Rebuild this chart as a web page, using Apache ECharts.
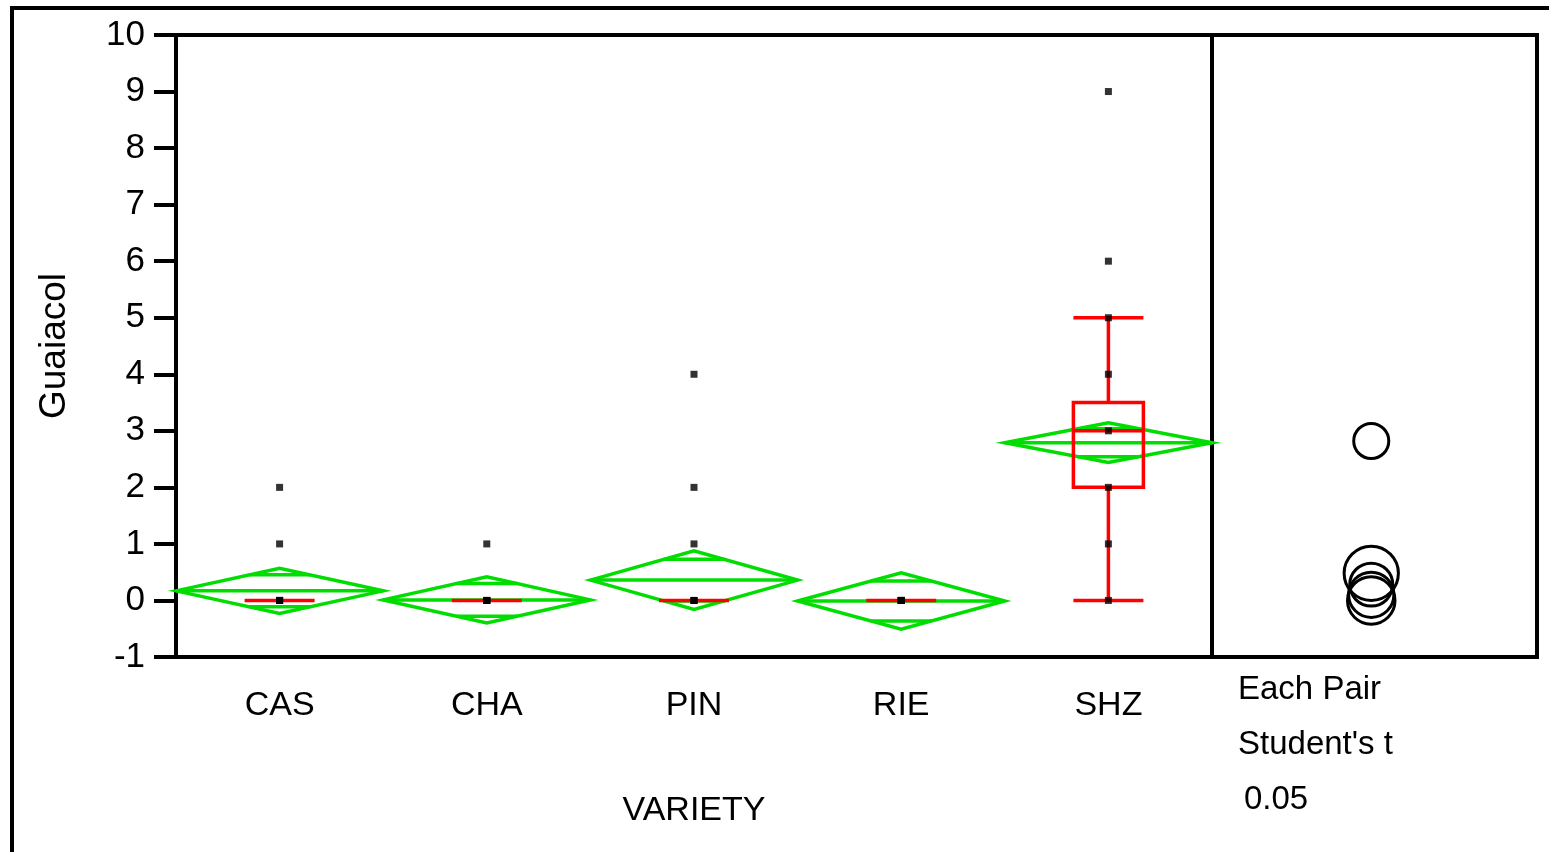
<!DOCTYPE html>
<html>
<head>
<meta charset="utf-8">
<script src="https://cdn.jsdelivr.net/npm/echarts@6/dist/echarts.min.js"></script>
<style>
  html, body { margin: 0; padding: 0; background: #fff; }
  #chart { width: 1549px; height: 852px; }
</style>
</head>
<body>
<div id="chart"></div>
<script>
// varieties on the x axis
const categories = ['CAS', 'CHA', 'PIN', 'RIE', 'SHZ'];
const yTicks = [-1, 0, 1, 2, 3, 4, 5, 6, 7, 8, 9, 10];

// raw observations (only distinct values are visible)
const casValues = [0, 0, 0, 0, 1, 2];
const chaValues = [0, 0, 0, 0, 1];
const pinValues = [0, 0, 0, 1, 2, 4];
const rieValues = [0, 0, 0, 0, 0];
const shzValues = [0, 1, 2, 3, 4, 5, 6, 9];

// means diamonds: group mean and half height of the 95% interval
const groupMeans = [0.17, 0.01, 0.36, -0.01, 2.79];
const ciHalf = [0.40, 0.41, 0.52, 0.50, 0.35];

// quantile boxes: min, q1, median, q3, max whisker
const boxStats = [
  [0, 0, 0, 0, 0],
  [0, 0, 0, 0, 0],
  [0, 0, 0, 0, 0],
  [0, 0, 0, 0, 0],
  [0, 2, 3, 3.5, 5]
];

// comparison circles (Each Pair, Student's t 0.05)
const circleNames = ['SHZ', 'PIN', 'CAS', 'CHA', 'RIE'];
const circleCenters = [2.82, 0.48, 0.28, 0.10, 0.0];
const circleRadii = [0.31, 0.48, 0.38, 0.40, 0.42];

const green = '#00dd00';
const red = '#ff0000';
const font = 'Liberation Sans, Arial, sans-serif';

let chart = echarts.init(document.getElementById('chart'));

let pointData = [];
[casValues, chaValues, pinValues, rieValues, shzValues].forEach(function (vals, i) {
  vals.forEach(function (v) { pointData.push([i, v]); });
});

let diamondData = categories.map(function (c, i) {
  return [i, groupMeans[i], ciHalf[i]];
});

let circleData = circleCenters.map(function (c, i) {
  return [0.49, c, circleRadii[i]];
});

function renderDiamond(params, api) {
  let c = api.coord([api.value(0), api.value(1)]);
  let bw = api.size([1, 0])[0];
  let h = api.size([0, api.value(2)])[1];
  let x0 = c[0] - bw / 2, x1 = c[0] + bw / 2, y = c[1];
  let m = h * Math.SQRT1_2;
  let mw = (bw / 2) * (1 - Math.SQRT1_2);
  let st = { stroke: green, lineWidth: 3.5, fill: null };
  return {
    type: 'group',
    children: [
      { type: 'polygon', shape: { points: [[x0, y], [c[0], y - h], [x1, y], [c[0], y + h]] }, style: st },
      { type: 'line', shape: { x1: x0, y1: y, x2: x1, y2: y }, style: st },
      { type: 'line', shape: { x1: c[0] - mw, y1: y - m, x2: c[0] + mw, y2: y - m }, style: st },
      { type: 'line', shape: { x1: c[0] - mw, y1: y + m, x2: c[0] + mw, y2: y + m }, style: st }
    ]
  };
}

function renderCircle(params, api) {
  let c = api.coord([api.value(0), api.value(1)]);
  let r = api.size([0, api.value(2)])[1];
  return {
    type: 'circle',
    shape: { cx: c[0], cy: c[1], r: r },
    style: { fill: null, stroke: '#000', lineWidth: 3 }
  };
}

let option = {
  backgroundColor: '#fff',
  animation: false,
  textStyle: { fontFamily: font },
  grid: [
    { left: 176, top: 35, width: 1036, height: 622, show: true, borderColor: '#000', borderWidth: 4 },
    { left: 1212, top: 35, width: 325, height: 622, show: true, borderColor: '#000', borderWidth: 4 }
  ],
  xAxis: [
    {
      gridIndex: 0,
      type: 'category',
      data: categories,
      boundaryGap: true,
      name: 'VARIETY',
      nameLocation: 'middle',
      nameGap: 137,
      nameTextStyle: { color: '#000', fontSize: 34, fontFamily: font },
      axisLine: { onZero: false, lineStyle: { color: '#000', width: 4 } },
      axisTick: {
        length: 18,
        lineStyle: { color: '#000', width: 4 },
        interval: function (index) { return index > 0; }
      },
      axisLabel: { color: '#000', fontSize: 34, margin: 32, fontFamily: font },
      splitLine: { show: false }
    },
    {
      gridIndex: 1,
      type: 'value',
      min: 0,
      max: 1,
      show: false
    }
  ],
  yAxis: [
    {
      gridIndex: 0,
      type: 'value',
      min: -1,
      max: 10,
      interval: 1,
      name: 'Guaiacol',
      nameLocation: 'middle',
      nameGap: 103,
      nameTextStyle: { color: '#000', fontSize: 37, fontFamily: font },
      axisLine: { show: true, onZero: false, lineStyle: { color: '#000', width: 4 } },
      axisTick: { show: true, length: 22, lineStyle: { color: '#000', width: 4 } },
      axisLabel: { color: '#000', fontSize: 35, margin: 31, fontFamily: font },
      splitLine: { show: false }
    },
    {
      gridIndex: 1,
      type: 'value',
      min: -1,
      max: 10,
      show: false
    }
  ],
  graphic: [
    {
      type: 'polyline',
      shape: { points: [[12, 852], [12, 8], [1549, 8]] },
      style: { stroke: '#000', lineWidth: 4, fill: null }
    },
    {
      type: 'text',
      left: 1238,
      top: 673,
      style: { text: 'Each Pair', font: '33px ' + font, fill: '#000' }
    },
    {
      type: 'text',
      left: 1238,
      top: 728,
      style: { text: "Student's t", font: '33px ' + font, fill: '#000' }
    },
    {
      type: 'text',
      left: 1244,
      top: 783,
      style: { text: '0.05', font: '33px ' + font, fill: '#000' }
    }
  ],
  series: [
    {
      type: 'custom',
      name: 'means',
      xAxisIndex: 0,
      yAxisIndex: 0,
      renderItem: renderDiamond,
      data: diamondData,
      silent: true,
      z: 2
    },
    {
      type: 'boxplot',
      name: 'quantiles',
      xAxisIndex: 0,
      yAxisIndex: 0,
      data: boxStats,
      boxWidth: [70, 70],
      itemStyle: { color: 'transparent', borderColor: red, borderWidth: 3.5 },
      emphasis: { disabled: true },
      silent: true,
      z: 3
    },
    {
      type: 'scatter',
      name: 'points',
      xAxisIndex: 0,
      yAxisIndex: 0,
      data: pointData,
      symbol: 'rect',
      symbolSize: 7,
      itemStyle: { color: '#000' },
      silent: true,
      z: 4
    },
    {
      type: 'custom',
      name: 'compare',
      xAxisIndex: 1,
      yAxisIndex: 1,
      renderItem: renderCircle,
      data: circleData,
      silent: true,
      z: 2
    }
  ]
};

chart.setOption(option);
</script>
</body>
</html>
